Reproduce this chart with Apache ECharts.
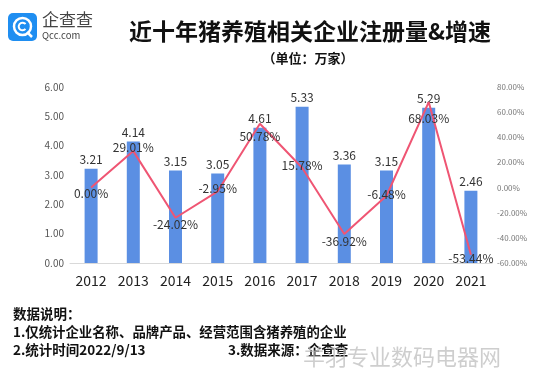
<!DOCTYPE html>
<html>
<head>
<meta charset="utf-8">
<script src="https://cdn.jsdelivr.net/npm/echarts@6/dist/echarts.min.js"></script>
<style>
html,body{margin:0;padding:0;background:#fff;}
#c{width:553px;height:369px;}
</style>
</head>
<body>
<div id="c"></div>
<script>
const years = ['2012','2013','2014','2015','2016','2017','2018','2019','2020','2021'];
const registrations = [3.21, 4.14, 3.15, 3.05, 4.61, 5.33, 3.36, 3.15, 5.29, 2.46];
const growth = [0.00, 29.01, -24.02, -2.95, 50.78, 15.78, -36.92, -6.48, 68.03, -53.44];

// label vertical offsets for growth labels (styling only)
const growthLabelDy = [6, -4, 7, -3, 13, -2, 7, -1, 16, 4];

const FONT = '"Noto Sans CJK SC", "Noto Sans", sans-serif';
const chart = echarts.init(document.getElementById('c'));

chart.setOption({
  backgroundColor: '#fff',
  animation: false,
  textStyle: { fontFamily: FONT },
  grid: { left: 70, right: 61, top: 87, bottom: 106 },
  xAxis: {
    type: 'category',
    data: years,
    axisLine: { lineStyle: { color: '#d9d9d9' } },
    axisTick: { show: false },
    axisLabel: { color: '#222', fontSize: 14, margin: 11, fontFamily: FONT }
  },
  yAxis: [
    {
      type: 'value', min: 0, max: 6, interval: 1,
      splitLine: { show: false },
      axisLine: { show: false }, axisTick: { show: false },
      axisLabel: { color: '#555', fontSize: 10, margin: 6, formatter: v => v.toFixed(2) }
    },
    {
      type: 'value', min: -60, max: 80, interval: 20,
      splitLine: { show: false },
      axisLine: { show: false }, axisTick: { show: false },
      axisLabel: { color: '#777', fontSize: 8, margin: 5, formatter: v => v.toFixed(2) + '%' }
    }
  ],
  series: [
    {
      type: 'bar',
      data: registrations,
      barWidth: 13,
      itemStyle: { color: '#5b8fe3' },
      label: {
        show: true, position: 'top', distance: 3,
        color: '#333', fontSize: 12, formatter: p => p.value.toFixed(2)
      },
      z: 2
    },
    {
      type: 'line',
      yAxisIndex: 1,
      data: growth.map((v, i) => ({
        value: v,
        label: { offset: [0, growthLabelDy[i]] }
      })),
      symbol: 'circle',
      symbolSize: 0.1,
      showSymbol: true,
      lineStyle: { color: '#ef5573', width: 2 },
      itemStyle: { color: '#ef5573' },
      label: {
        show: true, position: 'inside',
        color: '#333', fontSize: 12,
        formatter: p => p.value.toFixed(2) + '%'
      },
      z: 3
    }
  ],
  graphic: [
    { type: 'rect', left: 8, top: 13, shape: { width: 29, height: 28, r: 5 }, style: { fill: '#1f8ef1' } },
    { type: 'circle', shape: { cx: 22.5, cy: 26.5, r: 8.5 }, style: { fill: 'none', stroke: '#fff', lineWidth: 2.5 } },
    { type: 'arc', shape: { cx: 22.5, cy: 26.5, r: 3.8, startAngle: 0.7, endAngle: 5.6 }, style: { fill: 'none', stroke: '#fff', lineWidth: 2 } },
    { type: 'line', shape: { x1: 27, y1: 32, x2: 32, y2: 37 }, style: { stroke: '#fff', lineWidth: 2.5 } },
    { type: 'text', left: 42, top: 11, style: { text: '企查查', font: '17px ' + FONT, fill: '#444' } },
    { type: 'text', left: 42, top: 31, style: { text: 'Qcc.com', font: '9.5px ' + FONT, fill: '#444' } },
    { type: 'text', x: 310, y: 31, style: { text: '近十年猪养殖相关企业注册量&增速', font: 'bold 23px ' + FONT, fill: '#111', align: 'center', verticalAlign: 'middle' } },
    { type: 'text', x: 308, y: 58, style: { text: '（单位：万家）', font: 'bold 13px ' + FONT, fill: '#111', align: 'center', verticalAlign: 'middle' } },
    { type: 'text', x: 13, y: 314, style: { text: '数据说明：', font: 'bold 13.5px ' + FONT, fill: '#111', verticalAlign: 'middle' } },
    { type: 'text', x: 13, y: 332, style: { text: '1.仅统计企业名称、品牌产品、经营范围含猪养殖的企业', font: 'bold 13.4px ' + FONT, fill: '#111', verticalAlign: 'middle' } },
    { type: 'text', x: 13, y: 350, style: { text: '2.统计时间2022/9/13', font: 'bold 13.5px ' + FONT, fill: '#111', verticalAlign: 'middle' } },
    { type: 'text', x: 228, y: 350, style: { text: '3.数据来源：企查查', font: 'bold 13.5px ' + FONT, fill: '#111', verticalAlign: 'middle' } },
    { type: 'text', x: 303, y: 357, style: { text: '羊羽专业数码电器网', font: '22px ' + FONT, fill: 'rgba(190,190,190,0.75)', verticalAlign: 'middle' } }
  ]
});
</script>
</body>
</html>
